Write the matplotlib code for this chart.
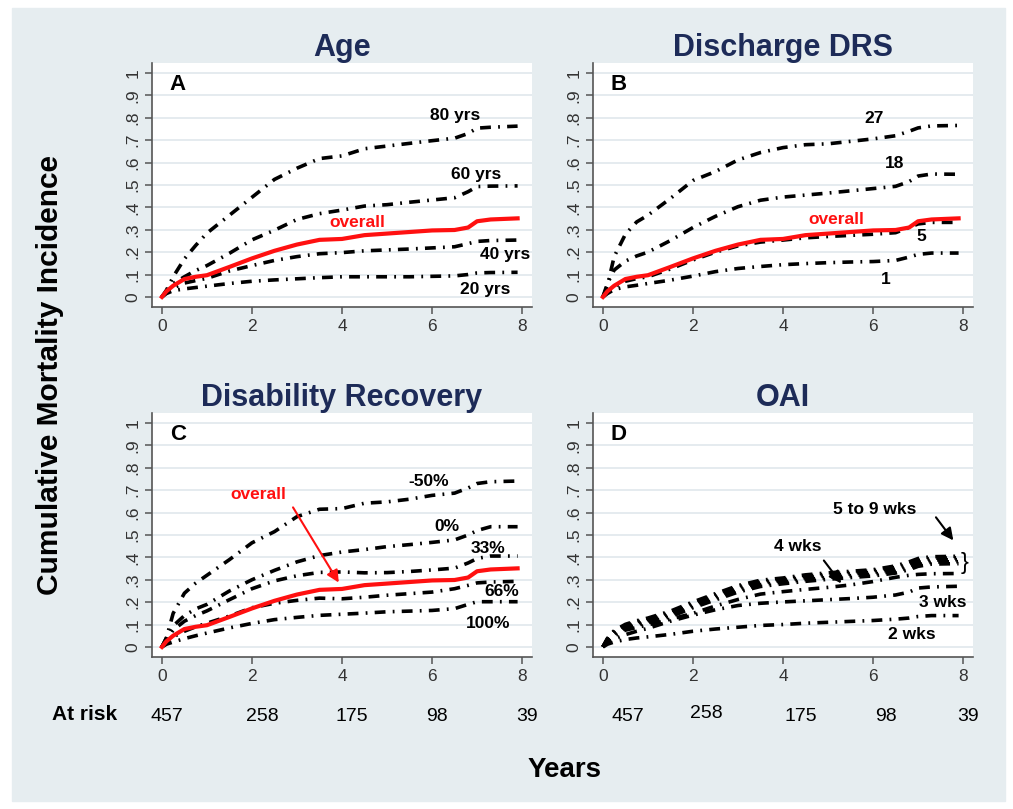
import matplotlib
matplotlib.use('Agg')
import matplotlib.pyplot as plt
from matplotlib.patches import Rectangle
import numpy as np

plt.rcParams['font.family'] = ['Liberation Sans', 'DejaVu Sans']

# follow-up times (years) at which each cumulative incidence curve is read
years = [0, 0.1, 0.25, 0.5, 0.75, 1, 1.5, 2, 2.5, 3, 3.5, 4, 4.5, 5, 5.5, 6, 6.5, 6.8, 7, 7.3, 7.9]

overall = [0, 0.025, 0.05, 0.08, 0.09, 0.097, 0.134, 0.172, 0.206, 0.234, 0.255, 0.259,
           0.276, 0.283, 0.29, 0.297, 0.299, 0.31, 0.338, 0.346, 0.351]

# A: age
age_80 = [0, 0.03, 0.09, 0.17, 0.23, 0.285, 0.365, 0.445, 0.525, 0.575, 0.618, 0.63,
          0.662, 0.674, 0.686, 0.698, 0.709, 0.73, 0.754, 0.758, 0.763]
age_60 = [0, 0.025, 0.06, 0.09, 0.118, 0.14, 0.195, 0.255, 0.298, 0.346, 0.372, 0.388,
          0.406, 0.412, 0.423, 0.433, 0.443, 0.47, 0.493, 0.495, 0.496]
age_40 = [0, 0.02, 0.04, 0.062, 0.073, 0.083, 0.116, 0.14, 0.163, 0.18, 0.193, 0.198,
          0.206, 0.21, 0.214, 0.219, 0.224, 0.238, 0.248, 0.252, 0.254]
age_20 = [0, 0.015, 0.028, 0.036, 0.042, 0.048, 0.06, 0.07, 0.076, 0.081, 0.086, 0.09,
          0.09, 0.09, 0.09, 0.092, 0.094, 0.1, 0.107, 0.109, 0.11]

# B: discharge DRS
drs_27 = [0, 0.05, 0.18, 0.28, 0.335, 0.365, 0.44, 0.52, 0.56, 0.612, 0.645, 0.667,
          0.68, 0.684, 0.695, 0.706, 0.72, 0.74, 0.755, 0.764, 0.766]
drs_18 = [0, 0.06, 0.12, 0.16, 0.183, 0.2, 0.252, 0.31, 0.36, 0.403, 0.432, 0.446,
          0.455, 0.464, 0.474, 0.484, 0.494, 0.515, 0.54, 0.549, 0.548]
drs_5 = [0, 0.02, 0.045, 0.07, 0.082, 0.09, 0.125, 0.165, 0.2, 0.228, 0.245, 0.254,
         0.264, 0.27, 0.275, 0.28, 0.287, 0.31, 0.326, 0.333, 0.333]
drs_1 = [0, 0.015, 0.033, 0.045, 0.052, 0.06, 0.075, 0.093, 0.113, 0.127, 0.136, 0.144,
         0.149, 0.153, 0.156, 0.158, 0.163, 0.178, 0.19, 0.196, 0.196]

# C: disability recovery
rec_m50 = [0, 0.04, 0.15, 0.24, 0.285, 0.32, 0.39, 0.465, 0.515, 0.582, 0.615, 0.618,
           0.642, 0.648, 0.66, 0.677, 0.687, 0.71, 0.73, 0.738, 0.741]
rec_0 = [0, 0.04, 0.094, 0.14, 0.17, 0.19, 0.25, 0.3, 0.342, 0.38, 0.408, 0.424,
         0.435, 0.448, 0.457, 0.467, 0.478, 0.5, 0.52, 0.537, 0.537]
rec_33 = [0, 0.035, 0.075, 0.115, 0.14, 0.161, 0.211, 0.26, 0.295, 0.318, 0.333, 0.335,
          0.331, 0.332, 0.337, 0.344, 0.352, 0.375, 0.395, 0.406, 0.406]
rec_66 = [0, 0.02, 0.045, 0.07, 0.09, 0.106, 0.138, 0.175, 0.195, 0.208, 0.218, 0.215,
          0.222, 0.231, 0.238, 0.245, 0.26, 0.275, 0.286, 0.29, 0.293]
rec_100 = [0, 0.012, 0.022, 0.037, 0.05, 0.062, 0.085, 0.105, 0.122, 0.132, 0.141, 0.146,
           0.151, 0.157, 0.16, 0.163, 0.171, 0.19, 0.202, 0.202, 0.202]

# D: OAI (weeks)
oai_2 = [0, 0.012, 0.022, 0.033, 0.04, 0.045, 0.056, 0.07, 0.08, 0.088, 0.096, 0.1,
         0.106, 0.11, 0.114, 0.118, 0.124, 0.129, 0.136, 0.14, 0.14]
oai_3 = [0, 0.02, 0.035, 0.055, 0.07, 0.083, 0.115, 0.142, 0.166, 0.185, 0.195, 0.201,
         0.206, 0.211, 0.216, 0.222, 0.232, 0.245, 0.263, 0.268, 0.271]
oai_4 = [0, 0.025, 0.05, 0.075, 0.087, 0.098, 0.124, 0.15, 0.183, 0.212, 0.236, 0.247,
         0.257, 0.266, 0.277, 0.292, 0.311, 0.32, 0.324, 0.327, 0.328]
oai_5 = [0, 0.03, 0.058, 0.083, 0.097, 0.108, 0.135, 0.175, 0.21, 0.245, 0.27, 0.282,
         0.293, 0.302, 0.31, 0.317, 0.33, 0.345, 0.36, 0.37, 0.372]
oai_6 = [0, 0.032, 0.062, 0.088, 0.103, 0.114, 0.142, 0.182, 0.218, 0.253, 0.278, 0.29,
         0.301, 0.31, 0.318, 0.325, 0.338, 0.353, 0.368, 0.379, 0.381]
oai_7 = [0, 0.034, 0.066, 0.093, 0.108, 0.119, 0.148, 0.189, 0.225, 0.261, 0.286, 0.297,
         0.309, 0.318, 0.326, 0.333, 0.347, 0.362, 0.377, 0.388, 0.39]
oai_8 = [0, 0.036, 0.069, 0.097, 0.113, 0.124, 0.154, 0.195, 0.232, 0.268, 0.292, 0.303,
         0.316, 0.325, 0.333, 0.34, 0.355, 0.371, 0.386, 0.396, 0.398]
oai_9 = [0, 0.038, 0.073, 0.101, 0.117, 0.129, 0.16, 0.201, 0.238, 0.274, 0.298, 0.308,
         0.322, 0.331, 0.338, 0.345, 0.362, 0.38, 0.395, 0.403, 0.405]

at_risk = [457, 258, 175, 98, 39]
x_ticks = [0, 2, 4, 6, 8]

BG = '#e6edf0'
NAVY = '#1d2b58'
RED = '#ff1010'
DASHDOT = (0, (3, 2, 0.5, 2))


def setup_axes(ax, title, letter):
    ax.set_xlim(-0.22, 8.22)
    ax.set_ylim(-0.045, 1.045)
    ax.set_facecolor('white')
    for side in ['top', 'right']:
        ax.spines[side].set_visible(False)
    for side in ['left', 'bottom']:
        ax.spines[side].set_color('#555555')
        ax.spines[side].set_linewidth(1.2)
    ax.set_yticks(np.arange(0, 1.01, 0.1))
    ax.set_yticklabels(['0', '.1', '.2', '.3', '.4', '.5', '.6', '.7', '.8', '.9', '1'])
    ax.set_xticks(x_ticks)
    ax.tick_params(colors='#555555', labelcolor='#333333', labelsize=12.5,
                   length=5, width=1.1, direction='out')
    for lab in ax.get_yticklabels():
        lab.set_rotation(90)
        lab.set_va('center')
    ax.grid(axis='y', color='#e0e8ec', linewidth=1.2)
    ax.set_axisbelow(True)
    ax.set_title(title, fontsize=22, fontweight='bold', color=NAVY, pad=5)
    ax.text(0.068, 0.91, letter, transform=ax.transAxes, fontsize=16,
            fontweight='bold', ha='center', va='center')


def curve(ax, y):
    ax.plot(years, y, color='black', linewidth=2.6, linestyle=DASHDOT)


def label(ax, x, y, s, color='black'):
    ax.text(x, y, s, fontsize=12.5, fontweight='bold', color=color,
            ha='center', va='center')


def risk_row(ax, offsets, raise_y):
    trans = ax.get_xaxis_transform()
    for i, n in enumerate(at_risk):
        ax.text(x_ticks[i] + offsets[i], -0.245 + raise_y[i], str(n), transform=trans,
                fontsize=14, ha='center', va='center', clip_on=False)


fig = plt.figure(figsize=(10.13, 8.09), dpi=100)
fig.patches.append(Rectangle((12 / 1013, 8 / 809), 993 / 1013, 793 / 809,
                             transform=fig.transFigure, color=BG, zorder=-10))

W, H = 1013, 809
axA = fig.add_axes([152 / W, 1 - 307 / H, 380 / W, 244 / H])
axB = fig.add_axes([593 / W, 1 - 307 / H, 380 / W, 244 / H])
axC = fig.add_axes([152 / W, 1 - 657 / H, 380 / W, 244 / H])
axD = fig.add_axes([593 / W, 1 - 657 / H, 380 / W, 244 / H])

# A: age
setup_axes(axA, 'Age', 'A')
for y in [age_80, age_60, age_40, age_20]:
    curve(axA, y)
axA.plot(years, overall, color=RED, linewidth=3)
label(axA, 6.51, 0.81, '80 yrs')
label(axA, 6.99, 0.545, '60 yrs')
label(axA, 4.34, 0.332, 'overall', color=RED)
label(axA, 7.62, 0.1875, '40 yrs')
label(axA, 7.18, 0.031, '20 yrs')

# B: discharge DRS
setup_axes(axB, 'Discharge DRS', 'B')
for y in [drs_27, drs_18, drs_5, drs_1]:
    curve(axB, y)
axB.plot(years, overall, color=RED, linewidth=3)
label(axB, 6.03, 0.797, '27')
label(axB, 6.47, 0.594, '18')
label(axB, 5.18, 0.344, 'overall', color=RED)
label(axB, 7.07, 0.269, '5')
label(axB, 6.29, 0.076, '1')

# C: disability recovery
setup_axes(axC, 'Disability Recovery', 'C')
for y in [rec_m50, rec_0, rec_33, rec_66, rec_100]:
    curve(axC, y)
axC.plot(years, overall, color=RED, linewidth=3)
label(axC, 5.92, 0.738, '-50%')
label(axC, 6.33, 0.54, '0%')
label(axC, 7.25, 0.44, '33%')
label(axC, 7.55, 0.247, '66%')
label(axC, 7.25, 0.106, '100%')
label(axC, 2.14, 0.679, 'overall', color=RED)
axC.annotate('', xy=(3.96, 0.277), xytext=(2.88, 0.634),
             arrowprops=dict(arrowstyle='-|>', color=RED, lw=1.5, mutation_scale=18))

# D: OAI
setup_axes(axD, 'OAI', 'D')
for y in [oai_2, oai_3, oai_4, oai_5, oai_6, oai_7, oai_8, oai_9]:
    curve(axD, y)
label(axD, 6.04, 0.612, '5 to 9 wks')
label(axD, 4.33, 0.448, '4 wks')
label(axD, 7.55, 0.2, '3 wks')
label(axD, 6.87, 0.054, '2 wks')
axD.text(8.03, 0.374, '}', fontsize=17, ha='center', va='center')
axD.annotate('', xy=(7.82, 0.466), xytext=(7.36, 0.589),
             arrowprops=dict(arrowstyle='-|>', color='black', lw=1.5, mutation_scale=18))
axD.annotate('', xy=(5.33, 0.274), xytext=(4.87, 0.396),
             arrowprops=dict(arrowstyle='-|>', color='black', lw=1.5, mutation_scale=18))

# numbers at risk under the bottom panels
risk_row(axC, [0.11, 0.24, 0.22, 0.1, 0.1], [0, 0, 0, 0, 0])
risk_row(axD, [0.56, 0.29, 0.4, 0.29, 0.1], [0, 0.015, 0, 0, 0])
fig.text(85 / W, 1 - 715 / H, 'At risk', fontsize=15, fontweight='bold',
         ha='center', va='center')

fig.text(50 / W, 1 - 375 / H, 'Cumulative Mortality Incidence', rotation=90,
         fontsize=21.5, fontweight='bold', ha='center', va='center')
fig.text(565 / W, 1 - 770 / H, 'Years', fontsize=20, fontweight='bold',
         ha='center', va='center')

fig.savefig('out.png', dpi=100, facecolor='white')
